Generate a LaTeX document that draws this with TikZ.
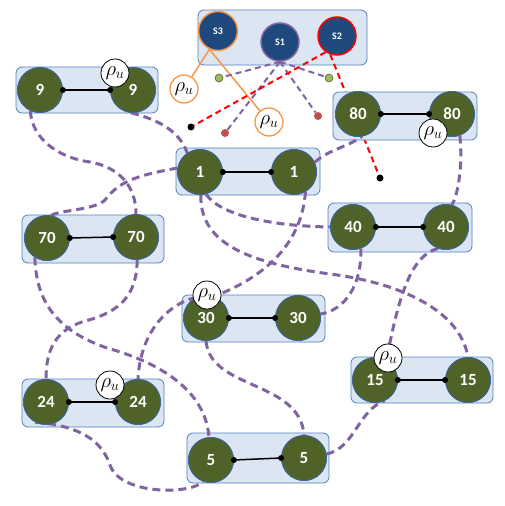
\documentclass[tikz,border=0pt]{standalone}
\usepackage{fontspec}
\setmainfont{Carlito}
\definecolor{olive}{HTML}{4F6228}
\definecolor{cborder}{HTML}{3C64A0}
\definecolor{boxfill}{HTML}{DCE6F2}
\definecolor{boxline}{HTML}{4F81BD}
\definecolor{sblue}{HTML}{1F497D}
\definecolor{purp}{HTML}{8064A2}
\definecolor{orng}{HTML}{F79646}
\definecolor{gdot}{HTML}{9BBB59}
\definecolor{rdot}{HTML}{C0504D}
\tikzset{
 pairbox/.style={draw=boxline, fill=boxfill, rounded corners=6pt, line width=0.8pt, inner sep=0},
 pc/.style={circle, fill=olive, draw=cborder, line width=0.8pt, minimum size=45pt, inner sep=0, text=white, font=\fontsize{17}{17}\selectfont\bfseries},
 sc/.style={circle, fill=sblue, line width=1.5pt, minimum size=39pt, inner sep=0, text=white, font=\fontsize{10}{10}\selectfont\rmfamily\bfseries},
 rhoc/.style={circle, fill=white, draw=black, line width=0.8pt, minimum size=28pt, inner sep=0, font=\fontsize{21}{21}\selectfont},
 orho/.style={rhoc, draw=orng, line width=1.3pt},
 link/.style={purp, line width=3pt, dash pattern=on 8pt off 5pt},
 slink/.style={purp, line width=2pt, dash pattern=on 6pt off 4pt},
 rlink/.style={red, line width=2pt, dash pattern=on 6pt off 4pt},
 olink/.style={orng, line width=1.5pt},
 bdot/.style={circle, fill=black, minimum size=7pt, inner sep=0},
 jdot/.style={circle, fill=black, minimum size=6pt, inner sep=0},
 gdotst/.style={circle, fill=gdot, draw=olive, line width=0.6pt, minimum size=8pt, inner sep=0},
 rdotst/.style={circle, fill=rdot, minimum size=8pt, inner sep=0},
 pairline/.style={black, line width=1.5pt},
}
\begin{document}
\begin{tikzpicture}[x=1pt,y=-1pt]
\useasboundingbox (0,0) rectangle (505,506);
% S box
\node[pairbox, minimum width=169pt, minimum height=55pt] (bS) at (282.5,37.5) {};
\node[sc, draw=orng] (s3) at (218,31) {S3};
\node[sc, draw=purp, minimum size=38pt] (s1) at (280,42) {S1};
\node[sc, draw=red, minimum size=38pt] (s2) at (337,36) {S2};
% small dots
\node[gdotst] (gL) at (219,78) {};
\node[gdotst] (gR) at (329,78) {};
\node[rdotst] (rL) at (225,133) {};
\node[rdotst] (rR) at (318,116) {};
\node[bdot] (bL) at (191,127) {};
\node[bdot] (bR) at (380,178) {};
% orange rho
\node[orho] (ro1) at (184,89) {$\rho_u$};
\node[orho] (ro2) at (269,122) {$\rho_u$};
% S lines
\draw[olink] (s3.245) -- (ro1);
\draw[olink] (s3.245) -- (ro2);
\draw[slink] (s1.south) -- (gL);
\draw[slink] (s1.south) -- (rL);
\draw[slink] (s1.south) -- (rR);
\draw[slink] (s1.south) -- (gR);
\draw[rlink] (s2.235) -- (bL);
\draw[rlink] (s2.250) -- (bR);
% pair boxes
\node[pairbox, minimum width=142pt, minimum height=46pt] (b9) at (87,90) {};
\node[pairbox, minimum width=144pt, minimum height=47pt] (b1) at (248,171.5) {};
\node[pairbox, minimum width=144pt, minimum height=48pt] (b80) at (405,116) {};
\node[pairbox, minimum width=144pt, minimum height=49pt] (b40) at (400,227.5) {};
\node[pairbox, minimum width=142pt, minimum height=48pt] (b70) at (93,239) {};
\node[pairbox, minimum width=143pt, minimum height=47pt] (b30) at (253.5,318.5) {};
\node[pairbox, minimum width=142pt, minimum height=48pt] (b24) at (93,403) {};
\node[pairbox, minimum width=142pt, minimum height=46pt] (b15) at (422,380) {};
\node[pairbox, minimum width=142pt, minimum height=50pt] (b5) at (258,458) {};
% circle positions
\path
 (40,90) coordinate (c9a) (133,90) coordinate (c9b)
 (200,172) coordinate (c1a) (294,172) coordinate (c1b)
 (358,114) coordinate (c80a) (452,114) coordinate (c80b)
 (353,227) coordinate (c40a) (446,227) coordinate (c40b)
 (47,238) coordinate (c70a) (136,237) coordinate (c70b)
 (206,318) coordinate (c30a) (298,318) coordinate (c30b)
 (46,402) coordinate (c24a) (138,402) coordinate (c24b)
 (375,380) coordinate (c15a) (468,380) coordinate (c15b)
 (211,460) coordinate (c5a) (304,458) coordinate (c5b);
\node[pc] (p9a) at (c9a) {9};
\node[pc] (p9b) at (c9b) {9};
\node[pc] (p1a) at (c1a) {1};
\node[pc] (p1b) at (c1b) {1};
\node[pc] (p80a) at (c80a) {80};
\node[pc] (p80b) at (c80b) {80};
\node[pc] (p40a) at (c40a) {40};
\node[pc] (p40b) at (c40b) {40};
\node[pc] (p70a) at (c70a) {70};
\node[pc] (p70b) at (c70b) {70};
\node[pc] (p30a) at (c30a) {30};
\node[pc] (p30b) at (c30b) {30};
\node[pc] (p24a) at (c24a) {24};
\node[pc] (p24b) at (c24b) {24};
\node[pc] (p15a) at (c15a) {15};
\node[pc] (p15b) at (c15b) {15};
\node[pc] (p5a) at (c5a) {5};
\node[pc] (p5b) at (c5b) {5};
% dashed links
\draw[link] (p9a.245) .. controls (32,140) and (60,158) .. (90,162) .. controls (118,167) and (136,185) .. (p70b.north);
\draw[link] (p9b.265) .. controls (160,120) and (180,132) .. (p1a.124);
\draw[link] (p1a.170) .. controls (140,175) and (120,180) .. (105,200) .. controls (95,210) and (60,210) .. (p70a.80);
\draw[link] (p70a.238) .. controls (36,300) and (55,330) .. (107,348) .. controls (150,360) and (205,385) .. (p5a.95);
\draw[link] (p70b.273) .. controls (137,295) and (120,312) .. (85,321) .. controls (55,330) and (46,350) .. (p24a.north);
\draw[link] (p30a.115) .. controls (165,305) and (140,335) .. (p24b.north);
\draw[link] (p1a.285) .. controls (220,215) and (270,226) .. (p40a.west);
\draw[link] (p1a.272) .. controls (200,240) and (240,262) .. (330,274) .. controls (400,283) and (460,310) .. (p15b.north);
\draw[link] (p1b.300) .. controls (302,240) and (270,275) .. (p30a.70);
\draw[link] (p1b.25) .. controls (328,150) and (345,148) .. (p80a.280);
\draw[link] (p80b.290) .. controls (463,165) and (458,195) .. (p40b.75);
\draw[link] (p40a.290) .. controls (362,285) and (345,310) .. (p30b.10);
\draw[link] (p40b.250) .. controls (410,255) and (398,300) .. (p15a.60);
\draw[link] (p30a.south) .. controls (210,390) and (300,380) .. (p5b.north);
\draw[link] (p5b.10) .. controls (355,448) and (358,410) .. (p15a.295);
\draw[link] (p24a.242) .. controls (70,425) and (100,435) .. (110,465) .. controls (120,495) and (190,495) .. (p5a.250);
% redraw circles over link ends
\foreach \n/\t in {p9a/9,p9b/9,p1a/1,p1b/1,p80a/80,p80b/80,p40a/40,p40b/40,p70a/70,p70b/70,p30a/30,p30b/30,p24a/24,p24b/24,p15a/15,p15b/15,p5a/5,p5b/5}
  \node[pc] at (\n) {\t};
% pair joins
\foreach \a/\b in {p9a/p9b,p1a/p1b,p80a/p80b,p40a/p40b,p70a/p70b,p30a/p30b,p24a/p24b,p15a/p15b,p5a/p5b}{
  \draw[pairline] (\a.east) -- (\b.west);
  \node[jdot] at (\a.east) {};
  \node[jdot] at (\b.west) {};
}
% rho labels
\node[rhoc] (r9) at (115,73) {$\rho_u$};
\node[rhoc] (r80) at (433,133) {$\rho_u$};
\node[rhoc] (r30) at (207,295) {$\rho_u$};
\node[rhoc] (r24) at (110,385) {$\rho_u$};
\node[rhoc] (r15) at (388,358) {$\rho_u$};
\end{tikzpicture}
\end{document}
